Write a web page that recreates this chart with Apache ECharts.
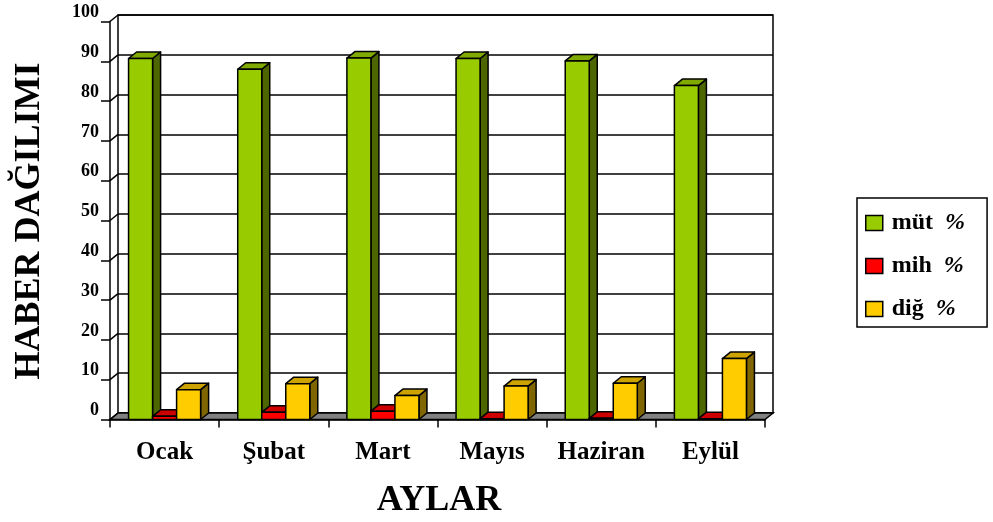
<!DOCTYPE html>
<html>
<head>
<meta charset="utf-8">
<script src="https://cdn.jsdelivr.net/npm/echarts@6/dist/echarts.min.js"></script>
<style>
  html, body { margin: 0; padding: 0; background: #fff; }
  #chart { width: 993px; height: 522px; }
</style>
</head>
<body>
<div id="chart"></div>
<script>
const months = ['Ocak', 'Şubat', 'Mart', 'Mayıs', 'Haziran', 'Eylül'];
const mut = [90.7, 88.0, 90.8, 90.7, 90.1, 83.9];
const mih = [0.8, 1.8, 2.1, 0.2, 0.3, 0.2];
const dig = [7.5, 9.0, 6.0, 8.4, 9.1, 15.3];
const yTicks = [0, 10, 20, 30, 40, 50, 60, 70, 80, 90, 100];

const FONT = '"Liberation Serif", "Times New Roman", serif';
const DX = 8, DY = -6.5;

const chart = echarts.init(document.getElementById('chart'));

// 3d-ish column: front rect + top face + side face
function barRenderer(slot, front, top, side) {
  return function (params, api) {
    const i = api.value(0), v = api.value(1);
    const p = api.coord([i, v]);
    const base = api.coord([i, 0]);
    const band = api.size([1, 0])[0];
    const w = band * 0.22;
    const x0 = p[0] + (slot - 1) * w - w / 2;
    const yt = p[1], yb = base[1];
    const edge = { stroke: '#000', lineWidth: 1.5, lineJoin: 'round' };
    return {
      type: 'group',
      children: [
        { type: 'polygon', shape: { points: [[x0 + w, yb], [x0 + w + DX, yb + DY], [x0 + w + DX, yt + DY], [x0 + w, yt]] },
          style: Object.assign({ fill: side }, edge) },
        { type: 'polygon', shape: { points: [[x0, yt], [x0 + DX, yt + DY], [x0 + w + DX, yt + DY], [x0 + w, yt]] },
          style: Object.assign({ fill: top }, edge) },
        { type: 'rect', shape: { x: x0, y: yt, width: w, height: yb - yt },
          style: Object.assign({ fill: front }, edge) }
      ]
    };
  };
}

function floorRenderer(params, api) {
  const band = api.size([1, 0])[0];
  const l = api.coord([0, 0])[0] - band / 2;
  const r = api.coord([months.length - 1, 0])[0] + band / 2;
  const y = api.coord([0, 0])[1];
  return {
    type: 'polygon',
    shape: { points: [[l, y], [r, y], [r + DX, y + DY], [l + DX, y + DY]] },
    style: { fill: '#808080', stroke: '#000', lineWidth: 1.5 }
  };
}

function tickLinkRenderer(params, api) {
  const band = api.size([1, 0])[0];
  const p = api.coord([0, api.value(0)]);
  const x = p[0] - band / 2;
  return {
    type: 'line',
    shape: { x1: x, y1: p[1], x2: x + DX, y2: p[1] + DY },
    style: { stroke: '#000', lineWidth: 1.5 }
  };
}

const toPairs = arr => arr.map((v, i) => [i, v]);

chart.setOption({
  backgroundColor: '#fff',
  animation: false,
  textStyle: { fontFamily: FONT },
  grid: [
    { left: 110, right: 228, top: 21.5, bottom: 102.5 },
    { left: 118, right: 220, top: 15, bottom: 109, show: true, borderColor: '#000', borderWidth: 1.5, backgroundColor: 'transparent' }
  ],
  xAxis: [
    {
      type: 'category', data: months, gridIndex: 0,
      axisLine: { lineStyle: { color: '#000', width: 1.5 } },
      axisTick: { show: true, length: 8, lineStyle: { color: '#000', width: 1.5 } },
      axisLabel: { color: '#000', fontFamily: FONT, fontWeight: 'bold', fontSize: 25, margin: 21, interval: 0 },
      splitLine: { show: false }
    },
    { type: 'value', gridIndex: 1, show: false, min: 0, max: 1 }
  ],
  yAxis: [
    {
      type: 'value', gridIndex: 0, min: 0, max: 100, interval: 10,
      axisLine: { show: true, lineStyle: { color: '#000', width: 1.5 } },
      axisTick: { show: true, length: 9, lineStyle: { color: '#000', width: 1.5 } },
      axisLabel: { color: '#000', fontFamily: FONT, fontWeight: 'bold', fontSize: 18, margin: 11, verticalAlign: 'bottom' },
      splitLine: { show: false }
    },
    {
      type: 'value', gridIndex: 1, min: 0, max: 100, interval: 10,
      axisLine: { show: false }, axisTick: { show: false }, axisLabel: { show: false },
      splitLine: { show: true, lineStyle: { color: '#000', width: 1.5 } }
    }
  ],
  legend: {
    orient: 'vertical', left: 857, top: 198,
    padding: [13, 22, 6, 8], itemGap: 19,
    itemWidth: 17, itemHeight: 15, icon: 'rect',
    borderColor: '#000', borderWidth: 1.5,
    itemStyle: { borderColor: '#000', borderWidth: 1.5 },
    data: ['müt %', 'mih %', 'diğ %'],
    formatter: n => '{a|' + n.split(' ')[0] + '}  {b|%}',
    textStyle: {
      color: '#000', fontFamily: FONT, fontWeight: 'bold', fontSize: 24,
      rich: {
        a: { fontFamily: FONT, fontWeight: 'bold', fontSize: 24, color: '#000', padding: [0, 0, 0, 4] },
        b: { fontFamily: FONT, fontStyle: 'italic', fontWeight: 'bold', fontSize: 24, color: '#000' }
      }
    }
  },
  graphic: [
    { type: 'text', x: 30, y: 221, rotation: Math.PI / 2,
      style: { text: 'HABER DAĞILIMI', font: 'bold 36px ' + FONT, fill: '#000', align: 'center', verticalAlign: 'middle' } },
    { type: 'text', x: 439, y: 501,
      style: { text: 'AYLAR', font: 'bold 36px ' + FONT, fill: '#000', align: 'center', verticalAlign: 'middle' } }
  ],
  series: [
    { type: 'custom', name: 'floor', xAxisIndex: 0, yAxisIndex: 0, silent: true, z: 1,
      data: [[0, 0]], renderItem: floorRenderer },
    { type: 'custom', name: 'links', xAxisIndex: 0, yAxisIndex: 0, silent: true, z: 1,
      data: yTicks.map(v => [v]), renderItem: tickLinkRenderer },
    { type: 'custom', name: 'müt %', xAxisIndex: 0, yAxisIndex: 0, z: 3,
      itemStyle: { color: '#99CC00' }, encode: { x: 0, y: 1 },
      data: toPairs(mut), renderItem: barRenderer(0, '#99CC00', '#80AA00', '#4D6600') },
    { type: 'custom', name: 'mih %', xAxisIndex: 0, yAxisIndex: 0, z: 3,
      itemStyle: { color: '#FF0000' }, encode: { x: 0, y: 1 },
      data: toPairs(mih), renderItem: barRenderer(1, '#FF0000', '#CC0000', '#800000') },
    { type: 'custom', name: 'diğ %', xAxisIndex: 0, yAxisIndex: 0, z: 3,
      itemStyle: { color: '#FFCC00' }, encode: { x: 0, y: 1 },
      data: toPairs(dig), renderItem: barRenderer(2, '#FFCC00', '#CCA300', '#806600') }
  ]
});
</script>
</body>
</html>
